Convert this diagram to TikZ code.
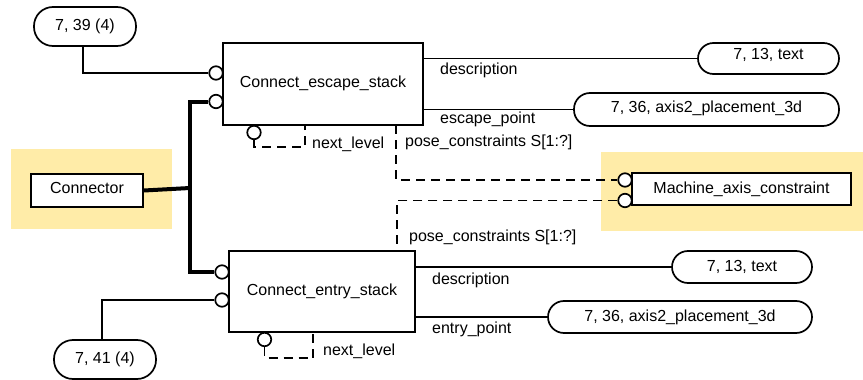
\documentclass[tikz,border=0pt]{standalone}
\usepackage{fontspec}
\setmainfont{Liberation Sans}
\definecolor{yelbg}{HTML}{FFECA8}
\tikzset{
  every node/.style={font=\fontsize{16}{19}\selectfont},
  ent/.style={draw, line width=1.7pt, fill=white, inner sep=0pt},
  pill/.style={draw, line width=1.7pt, fill=white, inner sep=0pt},
  lbl/.style={anchor=base west, inner sep=0pt},
  circ/.style={circle, draw, line width=1.7pt, fill=white, minimum size=13.5pt, inner sep=0pt},
  rel/.style={line width=1.7pt},
  thickrel/.style={line width=4pt},
  dsh/.style={line width=1.7pt, dash pattern=on 9pt off 6pt},
  bg/.style={fill=yelbg, draw=none, inner sep=0pt}
}
\begin{document}
\begin{tikzpicture}[x=1pt,y=-1pt]
\useasboundingbox (0,0) rectangle (863,380);
% backgrounds
\node[bg, minimum width=161pt, minimum height=80pt] (bgcon) at (91.5,189) {};
\node[bg, minimum width=262pt, minimum height=79pt] (bgmach) at (732,191.5) {};
% entities
\node[ent, minimum width=200pt, minimum height=82pt] (esc) at (323,84) {\raisebox{4pt}{Connect\_escape\_stack}};
\node[ent, minimum width=186pt, minimum height=81pt] (ent) at (322,291.5) {\raisebox{2.4pt}{Connect\_entry\_stack}};
\node[ent, minimum width=112pt, minimum height=33pt] (con) at (87,190.5) {\raisebox{5pt}{Connector}};
\node[ent, minimum width=219pt, minimum height=32pt] (mach) at (741.5,189) {\raisebox{3pt}{Machine\_axis\_constraint}};
% pills
\node[pill, rounded corners=19pt, minimum width=102pt, minimum height=39pt] (p39) at (85,26.5) {\raisebox{2.4pt}{7, 39 (4)}};
\node[pill, rounded corners=19pt, minimum width=102pt, minimum height=39pt] (p41) at (105,359.5) {7, 41 (4)};
\node[pill, rounded corners=15.5pt, minimum width=141pt, minimum height=31pt] (p13a) at (768.5,58.5) {\raisebox{9.5pt}{7, 13, text}};
\node[pill, rounded corners=16pt, minimum width=265pt, minimum height=33pt] (p36a) at (706.5,109.5) {\raisebox{4.7pt}{7, 36, axis2\_placement\_3d}};
\node[pill, rounded corners=16pt, minimum width=140pt, minimum height=32pt] (p13b) at (742,267) {\raisebox{2.5pt}{7, 13, text}};
\node[pill, rounded corners=16pt, minimum width=264pt, minimum height=32pt] (p36b) at (680,317) {\raisebox{3pt}{7, 36, axis2\_placement\_3d}};
% circles
\node[circ] (c1) at (216,73) {};
\node[circ] (c2) at (216,101.5) {};
\node[circ] (c3) at (222,272) {};
\node[circ] (c4) at (222,300) {};
\node[circ] (c5) at (254,132.5) {};
\node[circ] (c8) at (264.5,339.5) {};
\node[circ] (c6) at (625,180) {};
\node[circ] (c7) at (625,200.5) {};
% coordinates
\coordinate (k39) at (83,46);
\coordinate (k41) at (102,340);
\coordinate (kesc) at (396,125);
\coordinate (kent) at (397,251);
\coordinate (kn1) at (305,125);
\coordinate (kn2) at (313,332);
\coordinate (bus) at (190,188);
% connectors
\draw[rel] (k39) |- (c1.west);
\draw[rel] (c4.west) -| (k41);
\draw[thickrel] (c2.west) -| (bus) |- (c3.west);
\draw[thickrel] (con.east) -- (bus);
\draw[rel] (p13a.west) -- (p13a.west -| esc.east);
\draw[rel] (p36a.west) -- (p36a.west -| esc.east);
\draw[rel] (p13b.west) -- (p13b.west -| ent.east);
\draw[rel] (p36b.west) -- (p36b.west -| ent.east);
\draw[dsh] (kesc) |- (c6.west);
\draw[dsh] (c7.west) -| (kent);
\draw[dsh] (c5.south) -- ++(0,7) -| (kn1);
\draw[dsh] (c8.south) -- ++(0,11) -| (kn2);
% labels
\node[lbl] (l1) at (440,74) {description};
\node[lbl] (l2) at (440,123) {escape\_point};
\node[lbl] (l3) at (405,146.5) {pose\_constraints S[1:?]};
\node[lbl] (l4) at (312,148) {next\_level};
\node[lbl] (l5) at (409,241.5) {pose\_constraints S[1:?]};
\node[lbl] (l6) at (432,284) {description};
\node[lbl] (l7) at (432,333) {entry\_point};
\node[lbl] (l8) at (323,355.5) {next\_level};
\end{tikzpicture}
\end{document}
